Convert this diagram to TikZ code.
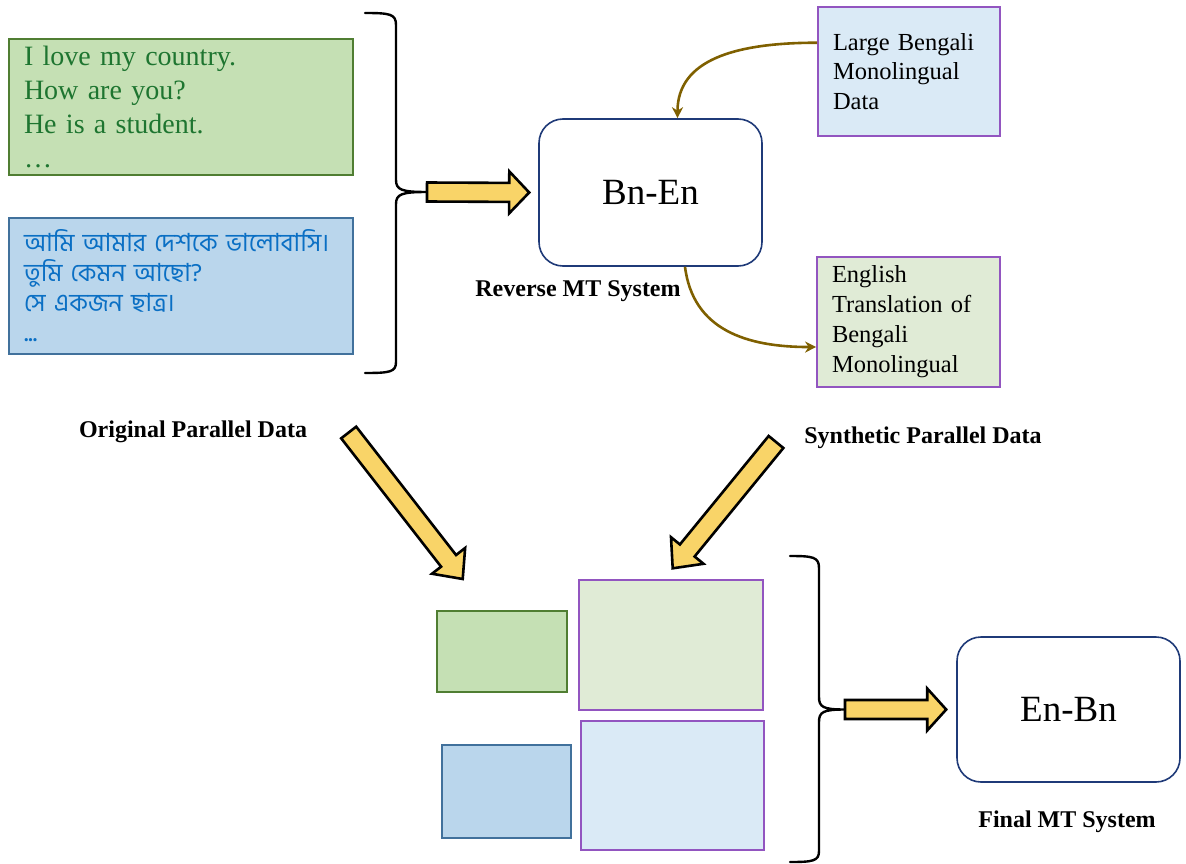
\documentclass[tikz,border=0pt]{standalone}
\usepackage{fontspec}
\setmainfont{Liberation Serif}
\newfontfamily\bnfont[Script=Bengali]{Hind Siliguri}
\usetikzlibrary{calc,arrows.meta}

\definecolor{engfill}{HTML}{C5E0B4}
\definecolor{engdraw}{HTML}{507E32}
\definecolor{engtext}{HTML}{1E7530}
\definecolor{bnfill}{HTML}{BAD6EC}
\definecolor{bndraw}{HTML}{41719C}
\definecolor{bntext}{HTML}{0A6FC4}
\definecolor{monofill}{HTML}{DAEAF6}
\definecolor{transfill}{HTML}{E0EBD6}
\definecolor{purpleline}{HTML}{9255C0}
\definecolor{navy}{HTML}{1F3A78}
\definecolor{gold}{HTML}{F9D468}
\definecolor{olive}{HTML}{7F6000}

\tikzset{
  databox/.style={rectangle, inner xsep=15pt, inner ysep=0pt, align=left, anchor=center},
  engbox/.style={databox, fill=engfill, draw=engdraw, line width=1.5pt, text=engtext},
  bnbox/.style={databox, fill=bnfill, draw=bndraw, line width=1.5pt, text=bntext},
  monobox/.style={databox, fill=monofill, draw=purpleline, line width=1.8pt},
  transbox/.style={databox, fill=transfill, draw=purpleline, line width=1.8pt},
  mtbox/.style={rectangle, rounded corners=24pt, draw=navy, line width=1.6pt, fill=white,
    font=\fontsize{37}{40}\selectfont},
  caption/.style={font=\fontsize{24}{28}\selectfont\bfseries},
  flow/.style={draw=olive, line width=2.6pt, -{Stealth[length=11pt,width=11pt,inset=3.5pt]}},
  bracestyle/.style={draw=black, line width=2.4pt, line cap=round, line join=round},
  blockstyle/.style={draw=black, fill=gold, line width=2.6pt, line join=miter},
}

% block arrow: #1 tail point, #2 tip point, #3 head length
\newcommand{\blockarrow}[3]{%
  \coordinate (ba-h) at ($(#2)!#3!(#1)$);
  \draw[blockstyle] ($(#1)!9.5pt!90:(#2)$) -- ($(ba-h)!9.5pt!90:(#2)$)
    -- ($(ba-h)!21pt!90:(#2)$) -- (#2) -- ($(ba-h)!21pt!-90:(#2)$)
    -- ($(ba-h)!9.5pt!-90:(#2)$) -- ($(#1)!9.5pt!-90:(#2)$) -- cycle;}

\begin{document}
\begin{tikzpicture}[x=1pt,y=-1pt]
\useasboundingbox (0,0) rectangle (1186,864);

% original parallel corpus
\node[engbox, minimum width=344pt, minimum height=136pt, text width=314pt,
  font=\fontsize{28}{34}\selectfont] (eng) at (181,107)
  {I love my country.\\How are you?\\He is a student.\\…};
\node[bnbox, minimum width=344pt, minimum height=136pt, text width=314pt,
  font=\bnfont\fontsize{25}{30}\selectfont] (bn) at (181,286)
  {আমি আমার দেশকে ভালোবাসি।\\তুমি কেমন আছো?\\সে একজন ছাত্র।\\{\fontsize{27}{30}\selectfont ...}};

% left brace grouping the two corpora
\draw[bracestyle] (365,13) .. controls (390,13) and (396,14) .. (396,25) -- (396,180)
  .. controls (396,190) and (402,192) .. (427,192)
  .. controls (402,192) and (396,194) .. (396,204) -- (396,362)
  .. controls (396,372) and (390,373) .. (365,373);
\coordinate (lbtip) at (427,192);

% reverse system
\node[mtbox, minimum width=223pt, minimum height=147pt] (bnen) at (650.5,192.5) {Bn-En};
\node[caption] (revlabel) at (578,291) {Reverse MT System};

% monolingual data and its translation
\node[monobox, minimum width=182pt, minimum height=129pt, text width=152pt,
  font=\fontsize{24.5}{29.5}\selectfont] (mono) at (909,71.5)
  {Large Bengali\\Monolingual\\Data};
\node[transbox, minimum width=183pt, minimum height=130pt, text width=153pt,
  font=\fontsize{24.5}{30}\selectfont] (trans) at (908.5,322)
  {English\\Translation of\\Bengali\\Monolingual};

\coordinate (monoout) at ($(mono.north west)!0.28!(mono.south west)$);
\coordinate (transin) at ($(trans.north west)!0.69!(trans.south west)$);
\draw[flow] (monoout) .. controls +(-83,0) and +(0,-58) .. ($(bnen.north)+(27,0)$);
\draw[flow] ($(bnen.south)+(34.5,0)$) .. controls +(8,63) and +(-70,0) .. (transin);

\coordinate (bnenin) at ($(bnen.west)+(-9,0)$);
\blockarrow{lbtip}{bnenin}{20pt}

% corpus labels
\node[caption] (origlabel) at (193,432) {Original Parallel Data};
\node[caption] (synlabel) at (923,438) {Synthetic Parallel Data};

% combined training data
\node[engbox, minimum width=130pt, minimum height=81pt] (engsmall) at (502,651.5) {};
\node[bnbox, minimum width=129pt, minimum height=93pt] (bnsmall) at (506.5,791.5) {};
\node[transbox, minimum width=184pt, minimum height=130pt] (transbig) at (671,645) {};
\node[monobox, minimum width=183pt, minimum height=129pt] (monobig) at (672.5,785.5) {};

\coordinate (origtail) at (348.7,432.5);
\coordinate (origtip) at (462.7,579);
\coordinate (syntail) at (776,442);
\coordinate (syntip) at (672.7,568.3);
\blockarrow{origtail}{origtip}{23pt}
\blockarrow{syntail}{syntip}{23pt}

% right brace grouping the combined data
\draw[bracestyle] (790,556) .. controls (813,556) and (819,557) .. (819,568) -- (819,697)
  .. controls (819,707) and (823,709.5) .. (845,709.5)
  .. controls (823,709.5) and (819,712) .. (819,722) -- (819,851)
  .. controls (819,861) and (813,862) .. (790,862);
\coordinate (rbtip) at (845,709.5);

% final system
\node[mtbox, minimum width=223pt, minimum height=145pt] (enbn) at (1068.5,709.5) {En-Bn};
\node[caption] (finallabel) at (1067,822) {Final MT System};
\coordinate (enbnin) at ($(enbn.west)+(-10,0)$);
\blockarrow{rbtip}{enbnin}{19pt}

\end{tikzpicture}
\end{document}
